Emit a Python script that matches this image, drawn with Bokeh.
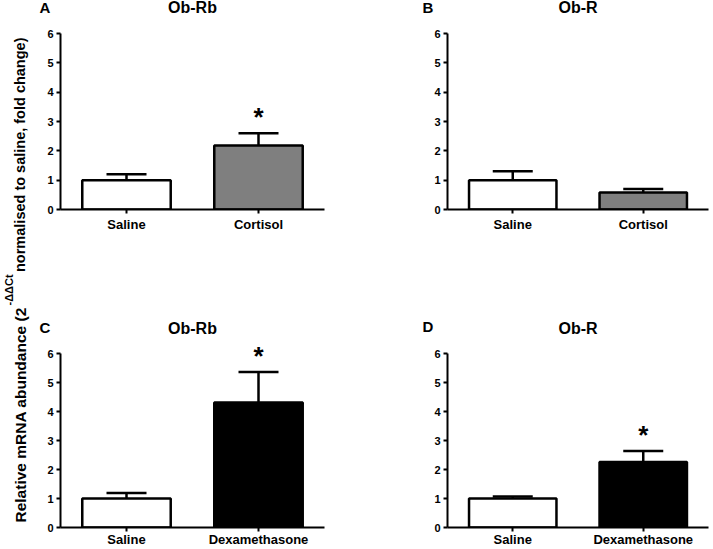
import numpy as np
from bokeh.plotting import figure
from bokeh.models import (FactorRange, Range1d, ColumnDataSource, Whisker, TeeHead,
                          LabelSet, FixedTicker)
from bokeh.layouts import row, column
from bokeh.embed import file_html
from bokeh.resources import INLINE
from bokeh.core.properties import value

# ---------------- data ----------------
groups_cortisol = ["Saline", "Cortisol"]
groups_dex = ["Saline", "Dexamethasone"]

obrb_cortisol_mean = [1.0, 2.18]
obrb_cortisol_sem = [0.20, 0.42]
obr_cortisol_mean = [1.0, 0.58]
obr_cortisol_sem = [0.30, 0.12]
obrb_dex_mean = [1.0, 4.31]
obrb_dex_sem = [0.19, 1.05]
obr_dex_mean = [1.0, 2.26]
obr_dex_sem = [0.07, 0.38]

sig_obrb_cortisol = [False, True]
sig_obr_cortisol = [False, False]
sig_obrb_dex = [False, True]
sig_obr_dex = [False, True]

colors_cortisol = ["#ffffff", "#7f7f7f"]
colors_dex = ["#ffffff", "#000000"]
y_ticks = [0, 1, 2, 3, 4, 5, 6]
panel_letters = ["A", "B", "C", "D"]
panel_titles = ["Ob-Rb", "Ob-R", "Ob-Rb", "Ob-R"]
y_label_main = "Relative mRNA abundance (2"
y_label_sup = "-\u0394\u0394Ct"
y_label_rest = " normalised to saline, fold change)"

FONT = "Liberation Sans"

# ---------------- geometry (pixels) ----------------
LAB_W = 30
A_W, B_W = 370, 313
HEAD1_H, ROW1_H, HEAD2_H, ROW2_H = 27, 273, 38, 211
A_MBL, A_MBR = 30, 76
B_MBL, B_MBR = 47, 5
ROW1_MBT, ROW1_MBB, ROW1_STANDOFF = 6, 91, 3
ROW2_MBT, ROW2_MBB, ROW2_STANDOFF = 4, 22, 0
ROW2_TOP_PAD = 11   # pixels of empty frame above the "6" tick in row 2


def panel(groups, means, sems, colors, sig, fig_w, fig_h, mbl, mbr, mbt, mbb,
          top_pad, standoff):
    frame_h = fig_h - mbt - mbb
    ppu_y = (frame_h - top_pad) / 6.0
    y_end = 6 + top_pad / ppu_y
    p = figure(width=fig_w, height=fig_h, x_range=FactorRange(*groups),
               y_range=Range1d(0, y_end), output_backend="svg", toolbar_location=None,
               min_border_left=mbl, min_border_right=mbr,
               min_border_top=mbt, min_border_bottom=mbb)
    p.x_range.range_padding = 0
    p.x_range.factor_padding = 0
    p.outline_line_color = None
    p.grid.visible = False
    p.background_fill_color = "white"
    p.border_fill_color = "white"

    for ax in (p.xaxis, p.yaxis):
        ax.axis_line_width = 2
        ax.axis_line_color = "black"
        ax.major_tick_line_width = 2
        ax.major_tick_line_color = "black"
        ax.major_tick_out = 4
        ax.major_tick_in = 0
        ax.minor_tick_out = 0
        ax.minor_tick_in = 0
        ax.major_label_text_font = FONT
        ax.major_label_text_font_style = "bold"
        ax.major_label_text_color = "black"
    p.yaxis.ticker = FixedTicker(ticks=y_ticks)
    p.yaxis.bounds = (0, 6)
    p.yaxis.major_label_text_font_size = "11px"
    p.yaxis.major_label_standoff = 3
    p.xaxis.major_label_text_font_size = "13px"
    p.xaxis.major_label_standoff = standoff

    upper = [m + s for m, s in zip(means, sems)]
    src = ColumnDataSource(dict(group=groups, mean=means, upper=upper, color=colors))
    p.vbar(x="group", top="mean", bottom=0, width=0.67, source=src,
           fill_color="color", line_color="black", line_width=2.5)
    p.add_layout(Whisker(base="group", lower="mean", upper="upper", source=src,
                         dimension="height", line_color="black", line_width=2.5,
                         upper_head=TeeHead(size=40, line_width=2.5, line_color="black"),
                         lower_head=None))

    sg = [g for g, s in zip(groups, sig) if s]
    su = [u for u, s in zip(upper, sig) if s]
    if sg:
        ssrc = ColumnDataSource(dict(group=sg, upper=su, star=["*"] * len(sg)))
        p.add_layout(LabelSet(x="group", y="upper", text="star", source=ssrc,
                              y_offset=7, text_align="center", text_baseline="alphabetic",
                              text_font=value(FONT), text_font_style="bold",
                              text_font_size="26px", text_color="black"))
    return p


def header(height):
    w = A_W + B_W
    h = figure(width=w, height=height, x_range=Range1d(0, w), y_range=Range1d(0, height),
               x_axis_type=None, y_axis_type=None, output_backend="svg",
               toolbar_location=None, min_border=0)
    h.outline_line_color = None
    h.grid.visible = False
    h.border_fill_color = "white"
    return h


pA = panel(groups_cortisol, obrb_cortisol_mean, obrb_cortisol_sem, colors_cortisol,
           sig_obrb_cortisol, A_W, ROW1_H, A_MBL, A_MBR, ROW1_MBT, ROW1_MBB, 0,
           ROW1_STANDOFF)
pB = panel(groups_cortisol, obr_cortisol_mean, obr_cortisol_sem, colors_cortisol,
           sig_obr_cortisol, B_W, ROW1_H, B_MBL, B_MBR, ROW1_MBT, ROW1_MBB, 0,
           ROW1_STANDOFF)
pC = panel(groups_dex, obrb_dex_mean, obrb_dex_sem, colors_dex,
           sig_obrb_dex, A_W, ROW2_H, A_MBL, A_MBR, ROW2_MBT, ROW2_MBB, ROW2_TOP_PAD,
           ROW2_STANDOFF)
pD = panel(groups_dex, obr_dex_mean, obr_dex_sem, colors_dex,
           sig_obr_dex, B_W, ROW2_H, B_MBL, B_MBR, ROW2_MBT, ROW2_MBB, ROW2_TOP_PAD,
           ROW2_STANDOFF)

# frame centres (in header pixel coordinates)
cx_a = A_MBL + (A_W - A_MBL - A_MBR) / 2
cx_b = A_W + B_MBL + (B_W - B_MBL - B_MBR) / 2
letter_x = [9, A_W + 22]

title_kw = dict(text_font=value(FONT), text_font_style="bold", text_color="black",
                text_baseline="alphabetic")

h1 = header(HEAD1_H)
h1.text(x=letter_x, y=[20.5, 20.5], text=panel_letters[:2], text_align="left",
        text_font_size="15px", **title_kw)
h1.text(x=[cx_a, cx_b], y=[20.4, 20.4], text=panel_titles[:2], text_align="center",
        text_font_size="16px", **title_kw)

h2 = header(HEAD2_H)
h2.text(x=letter_x, y=[11, 12], text=panel_letters[2:], text_align="left",
        text_font_size="15px", **title_kw)
h2.text(x=[cx_a, cx_b], y=[10.4, 10.4], text=panel_titles[2:], text_align="center",
        text_font_size="16px", **title_kw)

# shared y-axis title, drawn in a narrow figure
H_TOTAL = HEAD1_H + ROW1_H + HEAD2_H + ROW2_H
lab = figure(width=LAB_W, height=H_TOTAL, x_range=Range1d(0, LAB_W),
             y_range=Range1d(0, H_TOTAL), x_axis_type=None, y_axis_type=None,
             output_backend="svg", toolbar_location=None, min_border=0)
lab.outline_line_color = None
lab.grid.visible = False
lab.border_fill_color = "white"
common = dict(angle=np.pi / 2, text_font=value(FONT), text_font_style="bold",
              text_color="black", text_baseline="alphabetic")
lab.text(x=[19.8], y=[H_TOTAL - 522], text=[y_label_main], text_align="left",
         text_font_size="15.5px", **common)
lab.text(x=[8.6], y=[H_TOTAL - 305], text=[y_label_sup], text_align="left",
         text_font_size="11px", **common)
lab.text(x=[19.8], y=[H_TOTAL - 33], text=[y_label_rest], text_align="right",
         text_font_size="14.5px", **common)

layout = row(lab, column(h1, row(pA, pB), h2, row(pC, pD)))

open("out.html", "w").write(file_html(layout, INLINE))
